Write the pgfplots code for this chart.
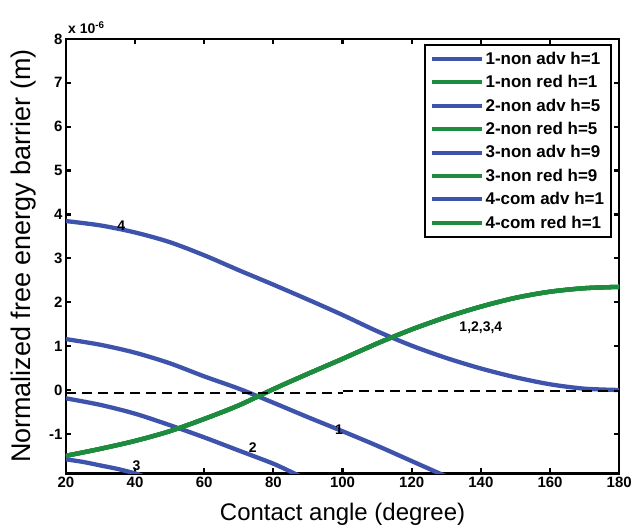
\documentclass[border=0pt]{standalone}
\usepackage{pgfplots}
\pgfplotsset{compat=1.18}
\usepackage{fontspec}
\setmainfont{Liberation Sans}
\definecolor{cblue}{RGB}{62,84,172}
\definecolor{cgreen}{RGB}{30,140,62}

\pgfplotstableread{
x y
20 1.16
30 1.03
40 0.85
50 0.61
60 0.31
70 0.03
80 -0.29
90 -0.62
100 -0.94
110 -1.27
120 -1.62
128 -1.90
130 -1.97
}\curveone
\pgfplotstableread{
x y
20 -0.19
30 -0.34
40 -0.54
50 -0.80
60 -1.08
70 -1.38
80 -1.68
86 -1.90
88 -1.97
}\curvetwo
\pgfplotstableread{
x y
20 -1.58
25 -1.64
30 -1.72
35 -1.80
40 -1.90
42 -1.95
}\curvethree
\pgfplotstableread{
x y
20 3.85
30 3.75
40 3.59
50 3.37
60 3.07
70 2.73
80 2.40
90 2.06
100 1.71
110 1.34
120 1.01
130 0.73
140 0.49
150 0.29
160 0.13
170 0.03
180 0.00
}\curvefour
\pgfplotstableread{
x y
20 -1.50
30 -1.34
40 -1.16
50 -0.94
60 -0.66
70 -0.35
80 0.02
90 0.37
100 0.71
110 1.06
120 1.38
130 1.66
140 1.90
150 2.10
160 2.24
170 2.32
180 2.35
}\curvered

\begin{document}
\begin{tikzpicture}
\begin{axis}[
  scale only axis, width=554pt, height=435pt,
  xmin=20, xmax=180, ymin=-1.9, ymax=8,
  clip mode=individual,
  xtick={20,40,...,180}, ytick={-1,0,...,8},
  tick align=inside, major tick length=5pt,
  every tick/.style={black, line width=2.2pt},
  axis line style={line width=2.5pt},
  ticklabel style={font=\fontsize{15}{15}\selectfont\bfseries},
  /pgf/number format/assume math mode=true,
  xlabel={Contact angle (degree)},
  ylabel={Normalized free energy barrier (m)},
  xlabel style={font=\fontsize{24}{24}\selectfont, yshift=-9pt},
  ylabel style={font=\fontsize{27}{27}\selectfont, yshift=6pt},
  legend cell align=left,
  legend style={at={(0.987,0.988)}, anchor=north east, draw=black, line width=2pt,
    font=\fontsize{17}{17}\selectfont\bfseries, row sep=5.6pt, inner sep=5pt},
  legend image code/.code={\draw[line width=4pt] (0pt,0pt) -- (50pt,0pt);},
]
\addplot[cblue, line width=4.3pt, smooth] table {\curveone};
\addlegendentry{1-non adv h=1}
\addplot[cgreen, line width=4.3pt, smooth] table {\curvered};
\addlegendentry{1-non red h=1}
\addplot[cblue, line width=4.3pt, smooth] table {\curvetwo};
\addlegendentry{2-non adv h=5}
\addplot[cgreen, line width=4.3pt, smooth] table {\curvered};
\addlegendentry{2-non red h=5}
\addplot[cblue, line width=4.3pt, smooth] table {\curvethree};
\addlegendentry{3-non adv h=9}
\addplot[cgreen, line width=4.3pt, smooth] table {\curvered};
\addlegendentry{3-non red h=9}
\addplot[cblue, line width=4.3pt, smooth] table {\curvefour};
\addlegendentry{4-com adv h=1}
\addplot[cgreen, line width=4.3pt, smooth] table {\curvered};
\addlegendentry{4-com red h=1}
\addplot[black, line width=2pt, dash pattern=on 10pt off 6pt, forget plot] coordinates {(20,-0.06) (100,-0.06)};
\addplot[black, line width=2pt, dash pattern=on 10pt off 6pt, forget plot] coordinates {(100,-0.03) (180,-0.03)};
\node[font=\fontsize{14}{14}\selectfont\bfseries, inner sep=0pt] at (axis cs:36,3.75) {4};
\node[font=\fontsize{14}{14}\selectfont\bfseries, inner sep=0pt] at (axis cs:99,-0.91) {1};
\node[font=\fontsize{14}{14}\selectfont\bfseries, inner sep=0pt] at (axis cs:74,-1.32) {2};
\node[font=\fontsize{14}{14}\selectfont\bfseries, inner sep=0pt] at (axis cs:40.4,-1.72) {3};
\node[font=\fontsize{14}{14}\selectfont\bfseries, inner sep=0pt] at (axis cs:140,1.41) {1,2,3,4};
\node[font=\fontsize{14}{14}\selectfont\bfseries, anchor=south west, inner sep=0pt] at ([xshift=2pt,yshift=5pt]rel axis cs:0,1) {x 10\textsuperscript{-6}};
\end{axis}
\path ([xshift=-66pt,yshift=-55pt]current axis.south west) rectangle ([xshift=15pt,yshift=39pt]current axis.north east);
\end{tikzpicture}
\end{document}
